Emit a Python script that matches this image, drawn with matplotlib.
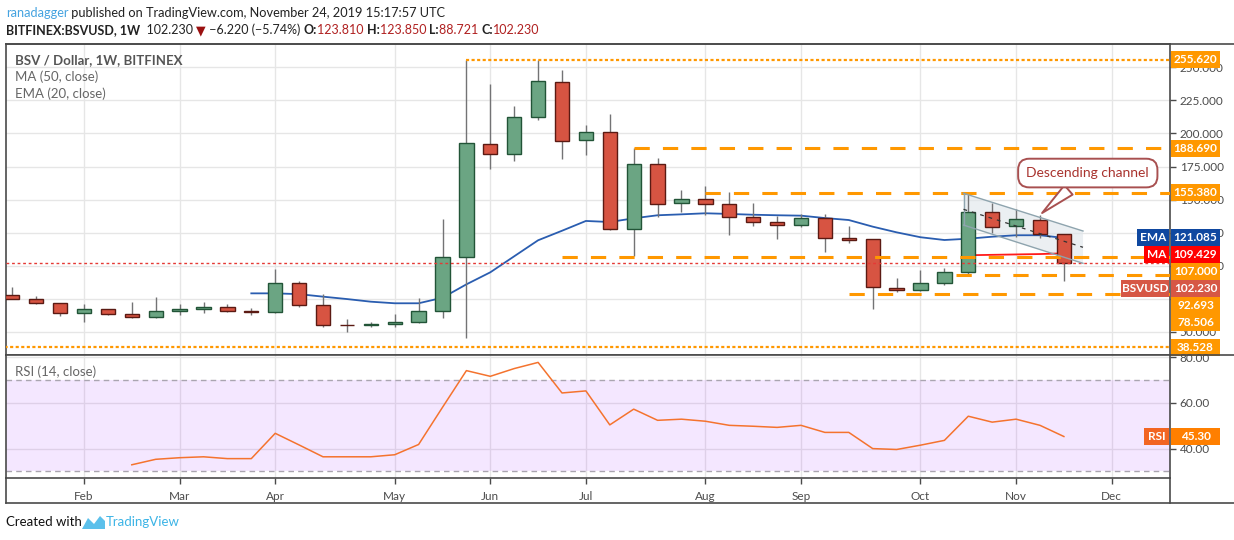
import numpy as np
import pandas as pd
import matplotlib
matplotlib.use("Agg")
import matplotlib.pyplot as plt
import matplotlib.transforms as mtransforms
from matplotlib.patches import Polygon, Rectangle
from matplotlib.lines import Line2D

plt.rcParams['font.family'] = ['Lato', 'DejaVu Sans']

# weekly candles, BSV / USD (Bitfinex), weeks starting Mon 2019-01-14
opens = [77.8, 74.8, 71.7, 64.2, 67.2, 63.4, 61.1, 65.7, 67.2, 68.7,
         65.7, 65.0, 86.9, 70.7, 55.6, 55.1, 55.9, 57.3, 65.6, 106.4,
         191.8, 184.3, 212.2, 238.7, 194.8, 200.9, 127.6, 176.7, 147.2, 150.2,
         146.5, 136.7, 132.9, 130.6, 135.9, 120.8, 120.0, 83.2, 81.5, 86.8,
         95.1, 140.4, 129.9, 134.4, 123.81]
highs = [84.1, 77.0, 71.9, 71.2, 67.4, 72.7, 76.5, 71.2, 72.7, 71.0,
         68.0, 97.7, 88.6, 78.5, 59.6, 57.6, 63.4, 75.5, 135.4, 255.6,
         237.4, 220.8, 255.6, 248.0, 206.4, 214.7, 188.7, 181.3, 157.2, 160.3,
         155.4, 147.6, 137.6, 138.9, 138.9, 130.0, 120.5, 90.7, 96.8, 98.6,
         154.8, 147.2, 143.2, 138.2, 123.85]
lows = [74.6, 71.4, 62.4, 57.8, 62.7, 60.9, 60.9, 63.1, 64.6, 64.9,
        63.1, 64.6, 68.7, 54.0, 50.2, 54.0, 54.0, 56.6, 60.8, 45.7,
        173.4, 179.4, 210.4, 180.9, 184.0, 127.0, 107.4, 137.1, 140.9, 138.4,
        123.6, 130.3, 120.5, 129.6, 110.7, 117.5, 67.6, 80.5, 81.3, 85.5,
        93.6, 125.0, 122.0, 120.8, 88.721]
closes = [74.8, 71.7, 64.2, 67.2, 63.4, 61.1, 65.7, 67.2, 68.7, 65.7,
          65.0, 86.9, 70.7, 55.5, 55.1, 55.9, 57.3, 65.6, 106.4, 192.6,
          184.3, 212.2, 239.4, 194.1, 200.9, 127.6, 176.7, 146.5, 150.2, 146.5,
          136.7, 132.9, 130.6, 135.9, 120.8, 119.7, 83.8, 81.7, 86.8, 95.1,
          140.4, 129.3, 135.2, 123.8, 102.23]

nan = np.nan
ema20 = [nan] * 10 + [79.2, 79.2, 78.6, 76.7, 74.9, 72.9, 71.7, 71.7, 75.9, 86.0,
                      95.1, 107.2, 119.3, 126.5, 133.9, 133.1, 135.9, 138.2, 138.9, 139.7,
                      139.2, 138.6, 138.2, 137.9, 136.1, 134.6, 129.6, 125.3, 121.6, 119.5,
                      120.5, 122.0, 123.1, 123.1, 121.085]
ma50 = [nan] * 40 + [108.0, 108.3, 108.6, 108.9, 109.429]
rsi14 = [nan] * 5 + [32.9, 35.3, 36.0, 36.4, 35.6, 35.6, 46.7, 41.6, 36.4, 36.4,
                     36.4, 37.3, 41.8, 58.1, 74.2, 71.7, 75.1, 77.8, 64.4, 65.3,
                     50.4, 57.3, 52.4, 52.9, 52.0, 50.2, 49.8, 49.3, 50.2, 47.1,
                     47.1, 40.0, 39.6, 41.5, 43.6, 54.2, 51.6, 52.9, 50.2, 45.30]

# horizontal levels drawn by the author: value, first week, style
level_vals = [255.620, 188.690, 155.380, 107.000, 92.693, 78.506, 38.528]
level_start = [19, 26, 29, 23, 39.5, 35, -1]
level_dotted = [True, False, False, False, False, False, True]

# descending channel (week index, price)
chan_x = [39.8, 44.8]
chan_top = [154.8, 126.3]
chan_bot = [130.8, 101.9]
chan_mid = [142.7, 114.0]

weeks = pd.date_range('2019-01-14', periods=49, freq='W-MON')
month_idx = [i for i, d in enumerate(weeks) if d.day <= 7]
month_lab = [weeks[i].strftime('%b') for i in month_idx]

UP, DOWN = '#6ba583', '#d75442'
UP_EDGE, DOWN_EDGE = '#225437', '#5b1a13'
WICK = '#737375'
ORANGE = '#ff9800'
GRID = '#e6e6e6'
FRAME = '#4a4a4a'
TICK = '#4c4c4c'

W, H = 1234, 540
fig = plt.figure(figsize=(W / 100, H / 100), dpi=100)
fig.patch.set_facecolor('white')

def fx(px):
    return px / W

def fy(py):
    return 1 - py / H

ax1 = fig.add_axes([fx(6), fy(355), (1170 - 6) / W, (355 - 44) / H])
ax2 = fig.add_axes([fx(6), fy(478), (1170 - 6) / W, (478 - 355) / H], sharex=ax1)

x = np.arange(len(closes))
o, h, l, c = map(np.array, (opens, highs, lows, closes))
up = c >= o

# candles
ax1.vlines(x, l, h, color=WICK, lw=1, zorder=3)
ax1.bar(x, np.maximum(np.abs(c - o), 0.4), bottom=np.minimum(o, c), width=0.6,
        color=np.where(up, UP, DOWN), edgecolor=np.where(up, UP_EDGE, DOWN_EDGE),
        linewidth=1, zorder=4)

ax1.plot(x, ema20, color='#2a5db0', lw=1.3, zorder=2)
ax1.plot(x, ma50, color='#ff1a1a', lw=1.3, zorder=2)

# last price line
ax1.axhline(closes[-1], color='#e53935', lw=1, ls=(0, (2, 2)), zorder=5)

for v, s, dotted in zip(level_vals, level_start, level_dotted):
    if dotted:
        ax1.hlines(v, s, 60, color=ORANGE, lw=1.6, linestyles=[(0, (1.4, 1.1))], zorder=5)
    else:
        ax1.hlines(v, s, 60, color=ORANGE, lw=2.2, linestyles=[(0, (5, 4.3))], zorder=5)

# channel (shading behind the candles)
poly = Polygon([(chan_x[0], chan_top[0]), (chan_x[1], chan_top[1]),
                (chan_x[1], chan_bot[1]), (chan_x[0], chan_bot[0])],
               closed=True, fc='#dfe5ea', alpha=0.6, ec='none', zorder=1.5)
ax1.add_patch(poly)
ax1.plot(chan_x, chan_top, color='#8ea4ae', lw=1, zorder=6)
ax1.plot(chan_x, chan_bot, color='#8ea4ae', lw=1, zorder=6)
ax1.plot([chan_x[0], chan_x[0]], [chan_top[0], chan_bot[0]], color='#8ea4ae', lw=1, zorder=6)
ax1.plot(chan_x, chan_mid, color='#333333', lw=0.9, ls=(0, (3, 4)), zorder=6)

ax1.annotate('Descending channel', xy=(43.0, 138.5), xytext=(45.0, 170.1),
             ha='center', va='center', fontsize=10, color='#a8322d', zorder=12,
             bbox=dict(boxstyle='round,pad=0.6,rounding_size=0.8', fc='white', ec='#a85050', lw=1.4),
             arrowprops=dict(arrowstyle='wedge,tail_width=0.9,shrink_factor=0.5',
                             fc='white', ec='#a85050', lw=1.4))

# axes limits, grids
ax1.set_xlim(-0.264, 48.44)
ax1.set_ylim(32.62, 267.6)
ax2.set_ylim(27.1, 81.05)

for ax in (ax1, ax2):
    ax.set_xticks(month_idx)
    ax.grid(True, color=GRID, lw=1, zorder=0)
    ax.set_axisbelow(True)
    for sp in ax.spines.values():
        sp.set_color(FRAME)
        sp.set_linewidth(1.2)
    ax.yaxis.tick_right()
    ax.tick_params(axis='y', length=4, width=1, color=FRAME, labelsize=8.5,
                   labelcolor=TICK, pad=3)

ax1.tick_params(axis='x', length=0, labelbottom=False)
ax1.set_yticks(np.arange(50, 251, 25))
ax1.set_yticklabels(['%.3f' % t for t in np.arange(50, 251, 25)])

ax2.set_xticklabels(month_lab)
ax2.tick_params(axis='x', length=4, width=1, color=FRAME, labelsize=8.5,
                labelcolor=TICK, pad=5)
ax2.set_yticks([40, 60, 80])
ax2.set_yticklabels(['40.00', '60.00', '80.00'])

# RSI pane
ax2.axhspan(30, 70, color='#9915ff', alpha=0.1, lw=0, zorder=1)
ax2.axhline(70, color='#aaa5b0', lw=1, ls=(0, (4, 3)), zorder=2)
ax2.axhline(30, color='#aaa5b0', lw=1, ls=(0, (4, 3)), zorder=2)
ax2.plot(x, rsi14, color='#f4732e', lw=1.1, zorder=3)

# pane legends
ax1.text(9 / 1164, (355 - 60) / 311, 'BSV / Dollar, 1W, BITFINEX', transform=ax1.transAxes,
         fontsize=9.5, fontweight='bold', color='#555555', va='center')
ax1.text(9 / 1164, (355 - 77) / 311, 'MA (50, close)', transform=ax1.transAxes,
         fontsize=9.5, color='#666666', va='center')
ax1.text(9 / 1164, (355 - 94) / 311, 'EMA (20, close)', transform=ax1.transAxes,
         fontsize=9.5, color='#666666', va='center')
ax2.text(9 / 1164, (478 - 372) / 123, 'RSI (14, close)', transform=ax2.transAxes,
         fontsize=9.5, color='#666666', va='center')

# right-hand price tags
def value_box(ax, ypos, text, color, ppu):
    tr = mtransforms.blended_transform_factory(ax.transAxes, ax.transData)
    hh = 8.5 / ppu
    ax.add_patch(Rectangle((1 + 1 / 1164, ypos - hh), 49 / 1164, 2 * hh, transform=tr,
                           fc=color, ec='none', clip_on=False, zorder=20))
    ax.text(1 + 25.5 / 1164, ypos, text, transform=tr, ha='center', va='center',
            color='white', fontsize=8.5, fontweight='bold', clip_on=False, zorder=21)

def name_box(ax, ypos, text, color, width, ppu):
    tr = mtransforms.blended_transform_factory(ax.transAxes, ax.transData)
    hh = 8.5 / ppu
    ax.add_patch(Rectangle((1 - (width + 1) / 1164, ypos - hh), width / 1164, 2 * hh,
                           transform=tr, fc=color, ec='none', clip_on=False, zorder=20))
    ax.text(1 - (width / 2 + 1) / 1164, ypos, text, transform=tr, ha='center', va='center',
            color='white', fontsize=8.5, fontweight='bold', clip_on=False, zorder=21)

ppu1 = 311 / (267.6 - 32.62)
tags = [(v, '%.3f' % v, ORANGE, None) for v in level_vals]
tags += [(ema20[-1], '%.3f' % ema20[-1], '#0f48a0', ('EMA', 32)),
         (ma50[-1], '%.3f' % ma50[-1], '#ff0000', ('MA', 25)),
         (closes[-1], '%.3f' % closes[-1], '#d65745', ('BSVUSD', 48))]
tags.sort(key=lambda t: -t[0])
prev = 1e9
for v, txt, col, nm in tags:
    pos = min(v, prev - 17 / ppu1)
    prev = pos
    value_box(ax1, pos, txt, col, ppu1)
    if nm:
        name_box(ax1, pos, nm[0], col, nm[1], ppu1)

ppu2 = 123 / (81.05 - 27.1)
value_box(ax2, rsi14[-1], '%.2f' % rsi14[-1], '#ff7f00', ppu2)
name_box(ax2, rsi14[-1], 'RSI', '#f26522', 25, ppu2)

# outer frame lines
for (x0, y0, x1, y1) in [(6, 44, 1234, 44), (6, 503, 1234, 503), (1170, 478, 1170, 503),
                         (6, 478, 6, 503), (1170, 355, 1234, 355)]:
    fig.add_artist(Line2D([fx(x0), fx(x1)], [fy(y0), fy(y1)], color=FRAME, lw=1.2))

# header lines
renderer = fig.canvas.get_renderer()

def run(px, py, parts, size):
    for s, col, wt in parts:
        t = fig.text(fx(px), fy(py), s, color=col, fontweight=wt, fontsize=size,
                     va='center', ha='left', family=['Lato', 'DejaVu Sans'])
        px += t.get_window_extent(renderer).width

DARK = '#222222'
RED = '#b02020'
run(6, 13, [('ranadagger', '#45a3e0', 'normal'),
            (' published on TradingView.com, November 24, 2019 15:17:57 UTC', DARK, 'normal')], 9.15)
run(6, 30, [('BITFINEX:BSVUSD, 1W', DARK, 'bold'), ('  102.230 ', DARK, 'normal'),
            ('\u25bc', '#9a1010', 'normal'), (' \u22126.220 (\u22125.74%) ', DARK, 'normal'),
            ('O:', DARK, 'bold'), ('123.810 ', RED, 'normal'),
            ('H:', DARK, 'bold'), ('123.850 ', RED, 'normal'),
            ('L:', DARK, 'bold'), ('88.721 ', RED, 'normal'),
            ('C:', DARK, 'bold'), ('102.230', RED, 'normal')], 9.0)

# footer
fig.text(fx(6), fy(522), 'Created with', fontsize=9.5, color='#111111', va='center')
logo = Polygon([(fx(82), fy(529)), (fx(88), fy(518)), (fx(94), fy(524)), (fx(100), fy(516)),
                (fx(105), fy(521)), (fx(105), fy(529))], closed=True, fc='#5bc0eb', ec='none')
fig.add_artist(logo)
fig.text(fx(106), fy(522), 'TradingView', fontsize=9.5, color='#3cb4e6', va='center')

fig.savefig('out.png', dpi=100)
